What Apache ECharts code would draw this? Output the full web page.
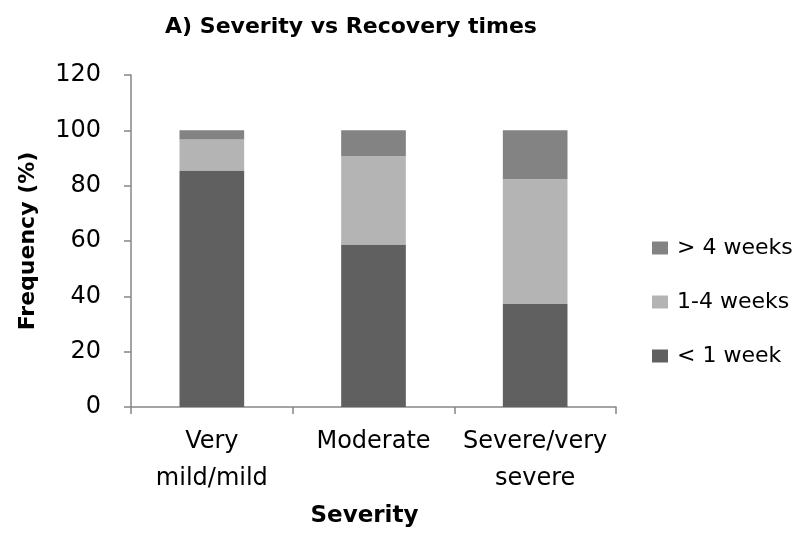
<!DOCTYPE html>
<html>
<head>
<meta charset="utf-8">
<script src="https://cdn.jsdelivr.net/npm/echarts@6/dist/echarts.min.js"></script>
<style>
  html, body { margin: 0; padding: 0; background: #fff; }
  #chart { width: 808px; height: 548px; }
</style>
</head>
<body>
<div id="chart"></div>
<script>
// categories and series values (percent)
var categories = ['Very\nmild/mild', 'Moderate', 'Severe/very\nsevere'];
var lessThan1Week = [85.5, 58.7, 37.2];
var oneToFourWeeks = [11.2, 31.9, 45.1];
var moreThan4Weeks = [3.3, 9.4, 17.7];

var chart = echarts.init(document.getElementById('chart'));
var font = 'DejaVu Sans';
var axisColor = '#868686';

chart.setOption({
  textStyle: { fontFamily: font },
  title: {
    text: 'A) Severity vs Recovery times',
    left: 346,
    textAlign: 'center',
    top: 11,
    textStyle: { fontFamily: font, fontSize: 22, fontWeight: 'bold', color: '#000' }
  },
  grid: { left: 131, right: 192, top: 75, bottom: 141, containLabel: false },
  legend: {
    orient: 'vertical',
    left: 647,
    top: 231,
    itemWidth: 16,
    itemHeight: 13,
    itemGap: 30,
    icon: 'rect',
    data: ['> 4 weeks', '1-4 weeks', '< 1 week'],
    textStyle: { fontFamily: font, fontSize: 22, color: '#000', lineHeight: 24, padding: [0, 0, 0, 4] }
  },
  xAxis: {
    type: 'category',
    data: categories,
    name: 'Severity',
    nameLocation: 'middle',
    nameGap: 98,
    nameTextStyle: { fontFamily: font, fontSize: 23, fontWeight: 'bold', color: '#000', padding: [0, 18, 0, 0] },
    axisLine: { lineStyle: { color: axisColor, width: 1.5 } },
    axisTick: { show: true, length: 7, lineStyle: { color: axisColor, width: 1.5 } },
    axisLabel: { interval: 0, margin: 16, fontFamily: font, fontSize: 24, color: '#000', lineHeight: 37 }
  },
  yAxis: {
    type: 'value',
    min: 0,
    max: 120,
    interval: 20,
    name: 'Frequency (%)',
    nameLocation: 'middle',
    nameGap: 92,
    nameTextStyle: { fontFamily: font, fontSize: 22, fontWeight: 'bold', color: '#000' },
    axisLine: { show: true, lineStyle: { color: axisColor, width: 1.5 } },
    axisTick: { show: true, length: 7, lineStyle: { color: axisColor, width: 1.5 } },
    splitLine: { show: false },
    axisLabel: { margin: 30, fontFamily: font, fontSize: 24, color: '#000' }
  },
  series: [
    {
      name: '< 1 week',
      type: 'bar',
      stack: 'total',
      barWidth: '40%',
      itemStyle: { color: '#606060' },
      data: lessThan1Week
    },
    {
      name: '1-4 weeks',
      type: 'bar',
      stack: 'total',
      barWidth: '40%',
      itemStyle: { color: '#b4b4b4' },
      data: oneToFourWeeks
    },
    {
      name: '> 4 weeks',
      type: 'bar',
      stack: 'total',
      barWidth: '40%',
      itemStyle: { color: '#838383' },
      data: moreThan4Weeks
    }
  ]
});
</script>
</body>
</html>
